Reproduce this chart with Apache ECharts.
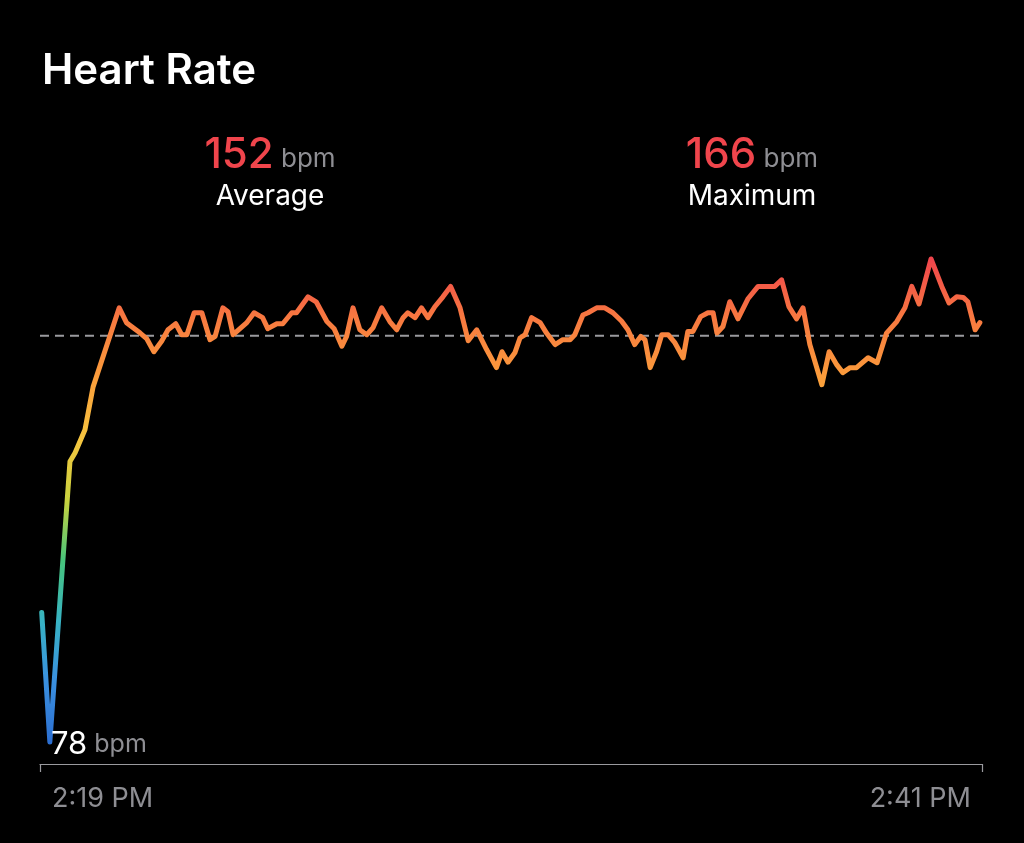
<!DOCTYPE html>
<html>
<head>
<meta charset="utf-8">
<title>Heart Rate</title>
<script src="https://cdn.jsdelivr.net/npm/echarts@6/dist/echarts.min.js"></script>
<style>
  html, body { margin: 0; padding: 0; background: #000; }
  #chart { width: 1024px; height: 843px; }
</style>
</head>
<body>
<div id="chart"></div>
<script>
// minutes after 2:19 PM
const minutes = [
  0.04, 0.23, 0.70, 0.82, 1.05, 1.24, 1.85, 2.02, 2.34, 2.49,
  2.66, 2.84, 2.99, 3.17, 3.31, 3.43, 3.60, 3.78, 3.97, 4.09,
  4.27, 4.39, 4.51, 4.67, 4.83, 5.00, 5.20, 5.32, 5.53, 5.67,
  5.88, 5.99, 6.26, 6.45, 6.70, 6.87, 7.05, 7.16, 7.31, 7.47,
  7.63, 7.78, 7.98, 8.17, 8.33, 8.48, 8.59, 8.76, 8.91, 9.06,
  9.22, 9.41, 9.59, 9.81, 10.00, 10.20, 10.43, 10.66, 10.79, 10.93,
  11.09, 11.21, 11.33, 11.48, 11.68, 11.83, 12.03, 12.21, 12.38, 12.49,
  12.68, 12.80, 13.00, 13.19, 13.38, 13.58, 13.73, 13.89, 14.03, 14.13,
  14.25, 14.40, 14.52, 14.67, 14.83, 15.02, 15.13, 15.25, 15.43, 15.60,
  15.72, 15.81, 15.95, 16.11, 16.30, 16.53, 16.77, 17.16, 17.32, 17.49,
  17.67, 17.82, 17.98, 18.26, 18.43, 18.61, 18.75, 18.92, 19.07, 19.34,
  19.55, 19.77, 20.01, 20.20, 20.36, 20.53, 20.81, 21.06, 21.23, 21.41,
  21.56, 21.67, 21.84, 21.95
];
const bpm = [
  101.6, 78, 129.1, 130.7, 134.9, 142.7, 157.1, 154.4, 152.5, 151.5,
  149.1, 151.0, 153.1, 154.2, 152.2, 152.2, 156.2, 156.2, 151.3, 151.9,
  157.1, 156.4, 152.2, 153.3, 154.4, 156.2, 155.3, 153.3, 154.2, 154.2,
  156.2, 156.2, 159.1, 158.2, 154.6, 153.3, 150.1, 151.9, 157.1, 153.1,
  152.2, 153.5, 157.1, 154.6, 153.1, 155.3, 156.2, 155.3, 157.1, 155.3,
  157.3, 159.1, 161.0, 157.1, 151.1, 153.1, 149.5, 146.2, 149.1, 147.2,
  148.9, 151.6, 152.2, 155.3, 154.4, 152.5, 150.4, 151.3, 151.3, 152.2,
  155.8, 156.2, 157.1, 157.1, 156.2, 154.7, 153.1, 150.4, 151.9, 151.3,
  146.2, 149.1, 152.2, 152.2, 150.7, 148.0, 152.8, 152.8, 155.5, 156.2,
  156.2, 152.5, 153.7, 158.2, 155.1, 158.7, 161.0, 161.0, 162.2, 157.3,
  155.1, 157.1, 150.4, 143.1, 149.1, 146.7, 145.3, 146.2, 146.2, 148.0,
  147.1, 152.5, 154.6, 157.1, 161.0, 157.8, 166.0, 161.0, 158.0, 159.1,
  159.0, 158.2, 153.1, 154.4
];
const averageBpm = 152;
const maximumBpm = 166;
const minimumBpm = 78;
const tickMinutes = [0, 22];
const tickLabels = ['2:19 PM', '2:41 PM'];

const FONT = 'Inter, "Noto Sans", sans-serif';
const RED = '#f0454c';
const GREY = '#8e8e93';

const chart = echarts.init(document.getElementById('chart'));

const points = minutes.map((m, i) => [m, bpm[i]]);
const avgLine = [[tickMinutes[0], averageBpm], [tickMinutes[1], averageBpm]];

// rich styles shared by the two summary blocks
const statRich = {
  v: { color: RED, fontSize: 42, fontWeight: 500, fontFamily: FONT, lineHeight: 46, verticalAlign: 'bottom' },
  u: { color: GREY, fontSize: 26, fontWeight: 'normal', fontFamily: FONT, lineHeight: 46, verticalAlign: 'bottom', padding: [0, 0, 4, 0] },
  l: { color: '#fff', fontSize: 28, fontWeight: 'normal', fontFamily: FONT, lineHeight: 42, align: 'center' }
};

chart.setOption({
  backgroundColor: '#000',
  animation: false,
  textStyle: { fontFamily: FONT },
  title: [
    {
      text: 'Heart Rate',
      left: 42, top: 50, padding: 0,
      textStyle: { color: '#fff', fontSize: 42, fontWeight: 600, fontFamily: FONT }
    },
    {
      text: '{v|' + averageBpm + '}{u| bpm}\n{l|Average}',
      left: 270, top: 130, padding: 0, textAlign: 'center',
      textStyle: { fontWeight: 'normal', rich: statRich }
    },
    {
      text: '{v|' + maximumBpm + '}{u| bpm}\n{l|Maximum}',
      left: 752, top: 130, padding: 0, textAlign: 'center',
      textStyle: { fontWeight: 'normal', rich: statRich }
    },
    {
      text: '{v|' + minimumBpm + '}{u| bpm}',
      left: 51, top: 726, padding: 0,
      textStyle: {
        fontWeight: 'normal',
        rich: {
          v: { color: '#fff', fontSize: 31, fontWeight: 'normal', fontFamily: FONT, lineHeight: 34, verticalAlign: 'bottom' },
          u: { color: GREY, fontSize: 25, fontWeight: 'normal', fontFamily: FONT, lineHeight: 34, verticalAlign: 'bottom', padding: [0, 0, 3, 0] }
        }
      }
    }
  ],
  grid: { left: 40, right: 42, top: 237, bottom: 79 },
  xAxis: {
    type: 'value',
    min: tickMinutes[0],
    max: tickMinutes[1],
    interval: tickMinutes[1] - tickMinutes[0],
    axisLine: { show: true, lineStyle: { color: '#9a9a9e', width: 1.2 } },
    axisTick: { show: true, length: 8, lineStyle: { color: '#9a9a9e', width: 1.2 } },
    splitLine: { show: false },
    axisLabel: {
      color: GREY,
      fontSize: 27,
      fontFamily: FONT,
      margin: 21,
      alignMinLabel: 'left',
      alignMaxLabel: 'right',
      padding: [0, 11, 0, 12],
      formatter: v => tickLabels[tickMinutes.indexOf(v)] || ''
    }
  },
  yAxis: {
    type: 'value',
    min: 74,
    max: 170,
    show: false
  },
  visualMap: {
    show: false,
    type: 'continuous',
    seriesIndex: 0,
    dimension: 1,
    min: 78,
    max: 166,
    inRange: {
      color: ['#2c6fd1', '#3a90e0', '#38b3c4', '#46c47c', '#c8d23e', '#f6c640', '#fb9e3b', '#f87a40', '#f0454c']
    }
  },
  series: [
    {
      type: 'line',
      data: points,
      symbol: 'none',
      lineStyle: { width: 5, cap: 'round', join: 'round' },
      z: 3
    },
    {
      type: 'line',
      data: avgLine,
      symbol: 'none',
      silent: true,
      lineStyle: { color: '#9a9a9e', width: 2, type: [9, 6] },
      z: 2
    }
  ]
});
</script>
</body>
</html>
